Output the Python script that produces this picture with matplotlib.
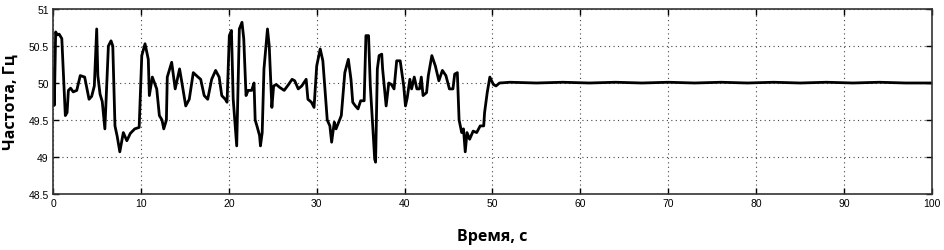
import matplotlib
matplotlib.use("Agg")
import matplotlib.pyplot as plt

# время, с
t = [0.0, 0.05, 0.15, 0.3, 0.5, 0.7, 1.0, 1.4, 1.6, 1.75, 2.0, 2.3, 2.7, 3.1, 3.6,
     4.1, 4.4, 4.7, 4.97, 5.1, 5.35, 5.6, 5.9, 6.3, 6.6, 6.8, 7.05, 7.3, 7.6, 8.0,
     8.4, 8.8, 9.3, 9.8, 10.1, 10.47, 10.84, 10.96, 11.3, 11.8, 12.1, 12.4, 12.6,
     12.9, 13.0, 13.5, 13.9, 14.4, 14.6, 15.1, 15.5, 15.96, 16.5, 16.8, 17.2, 17.6,
     18.05, 18.5, 18.9, 19.2, 19.6, 19.8, 20.06, 20.3, 20.5, 20.9, 21.2, 21.5, 21.7,
     21.96, 22.2, 22.6, 22.87, 23.0, 23.2, 23.5, 23.6, 23.8, 24.0, 24.4, 24.6, 24.9,
     25.1, 25.4, 25.8, 26.3, 26.8, 27.2, 27.5, 27.9, 28.3, 28.8, 29.0, 29.4, 29.7,
     30.0, 30.4, 30.7, 30.9, 31.2, 31.5, 31.7, 32.0, 32.2, 32.5, 32.8, 33.2, 33.6,
     33.9, 34.1, 34.4, 34.7, 35.0, 35.4, 35.6, 35.9, 36.1, 36.4, 36.6, 36.7, 36.9,
     37.1, 37.4, 37.5, 37.9, 38.2, 38.5, 38.8, 39.1, 39.5, 39.9, 40.1, 40.3, 40.6,
     40.8, 41.1, 41.4, 41.7, 41.9, 42.1, 42.5, 42.7, 43.1, 43.5, 43.9, 44.3, 44.7,
     45.1, 45.5, 45.7, 46.0, 46.2, 46.5, 46.7, 46.9, 47.1, 47.4, 47.8, 48.2, 48.6,
     49.0, 49.1, 49.4, 49.7, 50.1, 50.4, 50.8, 52.0, 55.0, 58.0, 61.0, 64.0, 67.0,
     70.0, 73.0, 76.0, 79.0, 82.0, 85.0, 88.0, 91.0, 94.0, 97.0, 100.0]

# частота, Гц
f = [49.7, 50.2, 49.7, 50.69, 50.65, 50.66, 50.6, 49.56, 49.6, 49.9, 49.93, 49.88, 49.9, 50.1, 50.08,
     49.78, 49.82, 49.96, 50.73, 50.1, 49.85, 49.75, 49.38, 50.5, 50.57, 50.5, 49.42, 49.28, 49.07, 49.33,
     49.22, 49.32, 49.38, 49.4, 50.37, 50.53, 50.32, 49.83, 50.08, 49.92, 49.56, 49.5, 49.38,
     49.5, 50.08, 50.28, 49.92, 50.19, 50.05, 49.69, 49.78, 50.14, 50.08, 50.05, 49.83, 49.78,
     50.05, 50.17, 50.08, 49.83, 49.78, 49.74, 50.64, 50.71, 49.78, 49.15, 50.73, 50.82, 50.6,
     49.83, 49.9, 49.9, 50.0, 49.5, 49.42, 49.29, 49.15, 49.33, 50.19, 50.73, 50.5, 49.67,
     49.96, 49.98, 49.94, 49.9, 49.98, 50.05, 50.03, 49.92, 49.96, 50.05, 49.78, 49.74, 49.67,
     50.23, 50.46, 50.3, 49.98, 49.5, 49.42, 49.2, 49.47, 49.38, 49.47, 49.56, 50.14, 50.32,
     50.05, 49.74, 49.69, 49.65, 49.76, 49.76, 50.64, 50.64, 49.96, 49.38, 48.97, 48.93, 50.19,
     50.37, 50.39, 50.19, 49.69, 50.0, 49.98, 49.92, 50.3, 50.3, 49.96, 49.69, 49.8, 50.05,
     49.92, 50.08, 49.92, 49.92, 50.08, 49.83, 49.87, 50.1, 50.37, 50.23, 50.03, 50.17, 50.1,
     49.92, 49.92, 50.12, 50.14, 49.5, 49.33, 49.38, 49.07, 49.33, 49.24, 49.35, 49.33, 49.42,
     49.42, 49.6, 49.87, 50.08, 49.98, 49.96, 50.0, 50.01, 50.0, 50.01, 50.0, 50.01, 50.0,
     50.01, 50.0, 50.01, 50.0, 50.01, 50.0, 50.01, 50.0, 50.01, 50.0, 50.0]

xticks = [0, 10, 20, 30, 40, 50, 60, 70, 80, 90, 100]
yticks = [48.5, 49, 49.5, 50, 50.5, 51]
ylabels = ["48.5", "49", "49.5", "50", "50.5", "51"]

fig = plt.figure(figsize=(9.45, 2.51), dpi=100)
ax = fig.add_axes([0.0561, 0.2231, 0.9301, 0.7371])

ax.plot(t, f, color="black", lw=2.0)

ax.set_xlim(0, 100)
ax.set_ylim(48.5, 51)
ax.set_xticks(xticks)
ax.set_xticklabels([str(v) for v in xticks], fontsize=7.5, family="Liberation Sans")
ax.set_yticks(yticks)
ax.set_yticklabels(ylabels, fontsize=7.5, family="Liberation Sans")
ax.tick_params(direction="in", length=4, width=1, top=True, right=True, pad=3)
ax.grid(True, color="#444444", linestyle=(0, (1, 3)), linewidth=0.8)

for s in ax.spines.values():
    s.set_linewidth(1.2)
    s.set_color("#333333")

ax.set_xlabel("Время, с", fontsize=11.5, fontweight="bold", family="Open Sans", labelpad=14)
ax.set_ylabel("Частота, Гц", fontsize=11.5, fontweight="bold", family="Open Sans", labelpad=7)

fig.savefig("out.png", dpi=100)
